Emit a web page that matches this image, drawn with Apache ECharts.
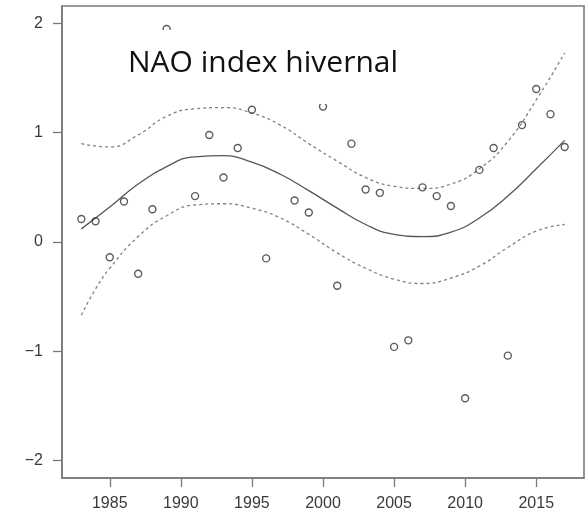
<!DOCTYPE html>
<html>
<head>
<meta charset="utf-8">
<script src="https://cdn.jsdelivr.net/npm/echarts@6/dist/echarts.min.js"></script>
<style>
  html, body { margin: 0; padding: 0; background: #fff; }
  #chart { width: 588px; height: 523px; }
</style>
</head>
<body>
<div id="chart"></div>
<script>
// Observed winter NAO index values
const obsYears = [1983, 1984, 1985, 1986, 1987, 1988, 1989, 1991, 1992, 1993, 1994, 1995, 1996,
  1998, 1999, 2000, 2001, 2002, 2003, 2004, 2005, 2006, 2007, 2008, 2009, 2010, 2011, 2012,
  2013, 2014, 2015, 2016, 2017];
const obsValues = [0.21, 0.19, -0.14, 0.37, -0.29, 0.30, 1.95, 0.42, 0.98, 0.59, 0.86, 1.21, -0.15,
  0.38, 0.27, 1.24, -0.40, 0.90, 0.48, 0.45, -0.96, -0.90, 0.50, 0.42, 0.33, -1.43, 0.66, 0.86,
  -1.04, 1.07, 1.40, 1.17, 0.87];

// Fitted curve (solid)
const fitYears = [1983, 1985, 1987, 1989, 1991, 1993, 1995, 1997, 1999, 2001, 2003, 2005,
  2007, 2009, 2011, 2013, 2015, 2017];
const fitValues = [0.12, 0.32, 0.53, 0.69, 0.78, 0.79, 0.73, 0.62, 0.47, 0.31, 0.16, 0.07,
  0.05, 0.09, 0.22, 0.42, 0.67, 0.93];

// Upper confidence band (dashed)
const upperYears = [1983, 1985, 1987, 1989, 1991, 1993, 1995, 1997, 1999, 2001, 2003, 2005,
  2007, 2009, 2011, 2013, 2015, 2017];
const upperValues = [0.90, 0.87, 0.98, 1.15, 1.22, 1.23, 1.18, 1.07, 0.90, 0.74, 0.59, 0.51,
  0.49, 0.53, 0.67, 0.92, 1.30, 1.73];

// Lower confidence band (dashed)
const lowerYears = [1983, 1984, 1985, 1987, 1989, 1991, 1993, 1995, 1997, 1999, 2001, 2003,
  2005, 2007, 2009, 2011, 2013, 2015, 2017];
const lowerValues = [-0.67, -0.43, -0.24, 0.05, 0.24, 0.34, 0.35, 0.31, 0.22, 0.07, -0.10, -0.24,
  -0.34, -0.38, -0.33, -0.22, -0.05, 0.10, 0.16];

// Tick labels
const xTicks = [1985, 1990, 1995, 2000, 2005, 2010, 2015];
const yTicks = [-2, -1, 0, 1, 2];
const titleText = 'NAO index hivernal';

const pairs = (xs, ys) => xs.map((x, i) => [x, ys[i]]);

const chart = echarts.init(document.getElementById('chart'), null, { renderer: 'canvas' });
const axisGray = '#7a7a7a';
const labelStyle = { color: '#3a3a3a', fontSize: 16, fontFamily: 'Liberation Sans, Arial, sans-serif' };

chart.setOption({
  animation: false,
  backgroundColor: '#fff',
  title: {
    text: titleText,
    left: 120,
    top: 30,
    padding: [18, 10, 26, 8],
    backgroundColor: '#fff',
    textStyle: { fontFamily: 'Open Sans', fontSize: 30, fontWeight: 'normal', color: '#111' }
  },
  grid: {
    left: 62, right: 4, top: 6, bottom: 45,
    show: true, borderColor: axisGray, borderWidth: 1.6, backgroundColor: 'transparent'
  },
  xAxis: {
    type: 'value', min: 1981.64, max: 2018.36,
    splitLine: { show: false },
    axisLine: { show: true, onZero: false, lineStyle: { color: axisGray, width: 1.6 } },
    axisTick: { show: true, customValues: xTicks, length: 9, lineStyle: { color: axisGray, width: 1.3 } },
    axisLabel: Object.assign({ customValues: xTicks, margin: 18, formatter: v => String(v) }, labelStyle)
  },
  yAxis: {
    type: 'value', min: -2.16, max: 2.16,
    splitLine: { show: false },
    axisLine: { show: true, onZero: false, lineStyle: { color: axisGray, width: 1.6 } },
    axisTick: { show: true, customValues: yTicks, length: 9, lineStyle: { color: axisGray, width: 1.3 } },
    axisLabel: Object.assign({ customValues: yTicks, margin: 19, formatter: v => String(v).replace('-', '\u2212') }, labelStyle)
  },
  series: [
    {
      type: 'line', data: pairs(fitYears, fitValues), smooth: 0.5, showSymbol: false,
      lineStyle: { color: '#555', width: 1.3 }, z: 2
    },
    {
      type: 'line', data: pairs(upperYears, upperValues), smooth: 0.5, showSymbol: false,
      lineStyle: { color: '#808080', width: 1.3, type: [3, 3] }, z: 2
    },
    {
      type: 'line', data: pairs(lowerYears, lowerValues), smooth: 0.5, showSymbol: false,
      lineStyle: { color: '#808080', width: 1.3, type: [3, 3] }, z: 2
    },
    {
      type: 'scatter', data: pairs(obsYears, obsValues), symbol: 'circle', symbolSize: 7,
      itemStyle: { color: 'rgba(0,0,0,0)', borderColor: '#333', borderWidth: 1.4 }, z: 3
    }
  ]
});
</script>
</body>
</html>
